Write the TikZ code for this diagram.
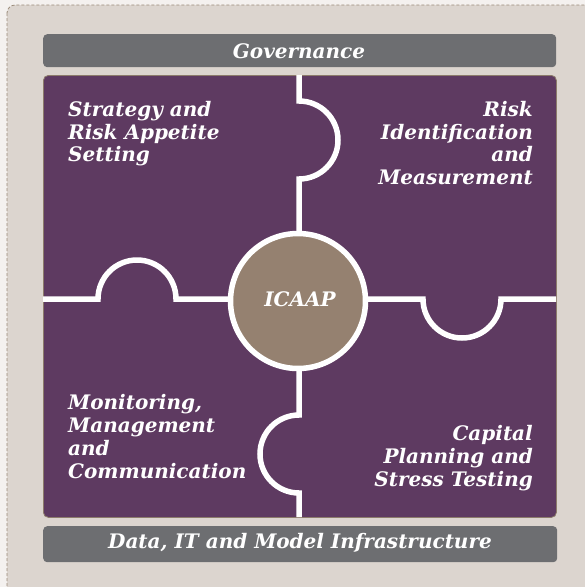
\documentclass[tikz,border=0pt]{standalone}
\usepackage{fontspec}
\setmainfont{DejaVu Serif}
\definecolor{pagebg}{HTML}{F4F1EF}
\definecolor{outerbg}{HTML}{DCD5CF}
\definecolor{dashcol}{HTML}{9A8A78}
\definecolor{barcol}{HTML}{6D6E71}
\definecolor{purp}{HTML}{5E3A61}
\definecolor{purpedge}{HTML}{8C7B6B}
\definecolor{hubcol}{HTML}{958170}
\tikzset{
  bar/.style={fill=barcol, rounded corners=4pt, draw=none},
  lbl/.style={text=white, font=\fontsize{20}{22.8}\selectfont\bfseries\itshape, inner sep=0pt},
  sep/.style={draw=white, line width=5.5pt},
}
\begin{document}
\begin{tikzpicture}[x=1pt,y=1pt]
\useasboundingbox (0,0) rectangle (585,-587);
\fill[pagebg] (0,0) rectangle (585,-587);
\begin{scope}
\clip (0,0) rectangle (585,-587);
\draw[fill=outerbg, draw=dashcol, dashed, dash pattern=on 3pt off 2pt, rounded corners=8pt, line width=0.8pt] (7,-5) rectangle (620,-620);
\end{scope}
% bars
\node[bar, minimum width=513pt, minimum height=33pt, anchor=north west] (gov) at (43,-34) {};
\node[lbl] (govt) at (299,-51) {Governance};
\node[bar, minimum width=514pt, minimum height=36pt, anchor=north west] (data) at (43,-526) {};
\node[lbl] (datat) at (300,-543) {Data, IT and Model Infrastructure};
% panel
\node[fill=purp, draw=purpedge, line width=0.8pt, rounded corners=5pt, minimum width=513pt, minimum height=442pt, anchor=north west, inner sep=0pt] (panel) at (43,-75) {};
% separators
\draw[sep] (299,-75) -- (299,-101) arc[start angle=90, end angle=-90, radius=39] -- (299,-299);
\draw[sep] (43,-299) -- (98,-299) arc[start angle=180, end angle=0, radius=39] -- (299,-299);
\draw[sep] (556,-299) -- (501,-299) arc[start angle=0, end angle=-180, radius=39] -- (299,-299);
\draw[sep] (299,-517) -- (299,-493) arc[start angle=-90, end angle=-270, radius=39] -- (299,-299);
% hub
\node[circle, fill=hubcol, draw=white, line width=5.5pt, minimum size=135pt, inner sep=0pt] (hub) at (298,-301) {};
\node[lbl] (hubt) at (300,-299) {ICAAP};
% quadrant labels
\node[lbl, align=left, anchor=north west] (q1) at (68,-101) {Strategy and\\Risk Appetite\\Setting};
\node[lbl, align=right, anchor=north east] (q2) at (533,-101) {Risk\\Identification\\and\\Measurement};
\node[lbl, align=left, anchor=north west] (q3) at (68,-394.5) {Monitoring,\\Management\\and\\Communication};
\node[lbl, align=right, anchor=north east] (q4) at (533,-425) {Capital\\Planning and\\Stress Testing};
\end{tikzpicture}
\end{document}
